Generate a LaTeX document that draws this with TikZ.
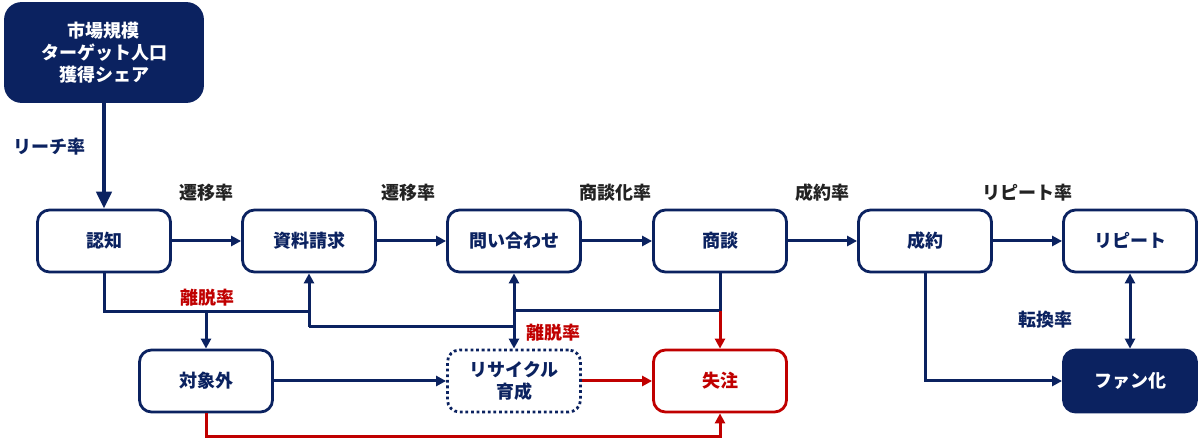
\documentclass[tikz,border=0pt]{standalone}
\usepackage{fontspec}
\setmainfont{Noto Sans CJK JP}
\usetikzlibrary{arrows.meta}
\definecolor{navy}{HTML}{0B2260}
\definecolor{myred}{HTML}{C00000}
\definecolor{lbl}{HTML}{222222}
\begin{document}
\begin{tikzpicture}[x=1pt,y=-1pt,
  box/.style={draw=navy,line width=2.8pt,rounded corners=12pt,minimum width=133pt,minimum height=62pt,inner sep=0pt,align=center,text=navy,font=\fontsize{18}{22}\selectfont\bfseries,fill=white},
  darkbox/.style={box,fill=navy,text=white},
  redbox/.style={box,draw=myred,text=myred},
  dotbox/.style={box,dash pattern=on 2.8pt off 2.8pt},
  conn/.style={draw=navy,line width=3pt},
  arr/.style={conn,-{Triangle[length=10pt,width=10pt]}},
  darr/.style={conn,{Triangle[length=10pt,width=10pt]}-{Triangle[length=10pt,width=10pt]}},
  redarr/.style={draw=myred,line width=3pt,-{Triangle[length=10pt,width=10pt]}},
  bigarr/.style={draw=navy,line width=4.5pt,-{Triangle[length=17pt,width=15pt]}},
  lab/.style={font=\fontsize{18}{22}\selectfont\bfseries,text=lbl,inner sep=0pt},
  navylab/.style={lab,text=navy},
  redlab/.style={lab,text=myred}
]
\useasboundingbox (0,0) rectangle (1200,438);
% nodes
\node[darkbox,minimum width=197pt,minimum height=98pt,rounded corners=16pt] (top) at (104,52.5) {市場規模\\ターゲット人口\\獲得シェア};
\node[box] (ninchi) at (104,241) {認知};
\node[box] (shiryo) at (309,241) {資料請求};
\node[box] (toi) at (514,241) {問い合わせ};
\node[box] (shodan) at (720,241) {商談};
\node[box] (seiyaku) at (925,241) {成約};
\node[box] (rep) at (1130,241) {リピート};
\node[box] (taisho) at (206,381) {対象外};
\node[dotbox] (recyc) at (514,381) {リサイクル\\育成};
\node[redbox] (shittyu) at (720,381) {失注};
\node[darkbox] (fan) at (1130,381) {ファン化};
% labels
\node[navylab] (l1) at (49,147) {リーチ率};
\node[lab] (l2) at (206,193) {遷移率};
\node[lab] (l3) at (408,193) {遷移率};
\node[lab] (l4) at (615,193) {商談化率};
\node[lab] (l5) at (822,193) {成約率};
\node[lab] (l6) at (1027,193) {リピート率};
\node[redlab] (l7) at (207,298) {離脱率};
\node[redlab] (l8) at (553,333) {離脱率};
\node[navylab] (l9) at (1045,320) {転換率};
% coordinates
\coordinate (j1) at (206,312);
\coordinate (j2) at (309,327);
\coordinate (j3) at (514,311);
% connectors
\draw[bigarr] (top.south) -- (ninchi.north);
\draw[arr] (ninchi.east) -- (shiryo.west);
\draw[arr] (shiryo.east) -- (toi.west);
\draw[arr] (toi.east) -- (shodan.west);
\draw[arr] (shodan.east) -- (seiyaku.west);
\draw[arr] (seiyaku.east) -- (rep.west);
\draw[conn] (ninchi.south) |- (shiryo.south |- j1);
\draw[arr] (j1) -- (taisho.north);
\draw[arr] (j2) -- (shiryo.south);
\draw[conn] (j2) -- (toi.south |- j2);
\draw[conn] (shodan.south) |- (j3);
\draw[arr] (j3) -- (toi.south);
\draw[arr] (j3) -- (recyc.north);
\draw[redarr] (shodan.south |- j3) -- (shittyu.north);
\draw[arr] (taisho.east) -- (recyc.west);
\draw[redarr] (recyc.east) -- (shittyu.west);
\draw[redarr] (taisho.south) -- ++(0,23) -| (shittyu.south);
\draw[arr] (seiyaku.south) |- (fan.west);
\draw[darr] (rep.south) -- (fan.north);
\end{tikzpicture}
\end{document}
